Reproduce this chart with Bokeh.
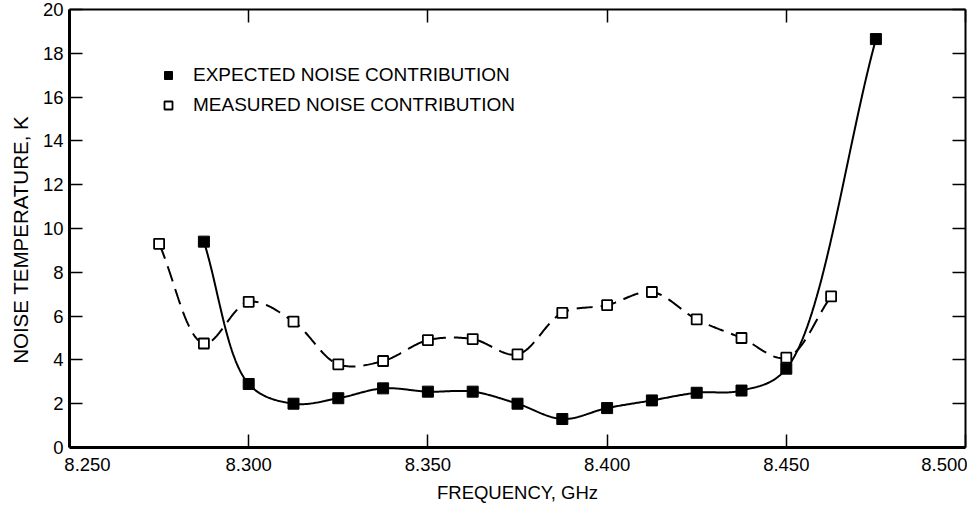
import numpy as np
from bokeh.plotting import figure
from bokeh.models import (LinearAxis, FixedTicker, Legend, LegendItem,
                          PrintfTickFormatter)
from bokeh.embed import file_html
from bokeh.resources import INLINE

# ---- data ----
freq_expected = [8.2875, 8.3000, 8.3125, 8.3250, 8.3375, 8.3500, 8.3625, 8.3750,
                 8.3875, 8.4000, 8.4125, 8.4250, 8.4375, 8.4500, 8.4750]
noise_expected = [9.4, 2.9, 2.0, 2.25, 2.7, 2.55, 2.55, 2.0,
                  1.3, 1.8, 2.15, 2.5, 2.6, 3.6, 18.65]
freq_measured = [8.2750, 8.2875, 8.3000, 8.3125, 8.3250, 8.3375, 8.3500, 8.3625,
                 8.3750, 8.3875, 8.4000, 8.4125, 8.4250, 8.4375, 8.4500, 8.4625]
noise_measured = [9.3, 4.75, 6.65, 5.75, 3.8, 3.95, 4.9, 4.95,
                  4.25, 6.15, 6.5, 7.1, 5.85, 5.0, 4.1, 6.9]
x_ticks = [8.25, 8.30, 8.35, 8.40, 8.45, 8.50]
y_ticks = [0, 2, 4, 6, 8, 10, 12, 14, 16, 18, 20]
legend_labels = ["EXPECTED NOISE CONTRIBUTION", "MEASURED NOISE CONTRIBUTION"]

FONT = "Liberation Sans"
FS = "18.5px"
NB = "\u00a0"


def smooth(xs, ys, n=40):
    """Centripetal Catmull-Rom curve through the given points (drawing aid)."""
    sx, sy = 3600.0, 22.0
    P = np.column_stack([np.asarray(xs) * sx, np.asarray(ys) * sy])
    P = np.vstack([2 * P[0] - P[1], P, 2 * P[-1] - P[-2]])
    out = []
    for i in range(1, len(P) - 2):
        p0, p1, p2, p3 = P[i - 1], P[i], P[i + 1], P[i + 2]
        t0 = 0.0
        t1 = t0 + np.linalg.norm(p1 - p0) ** 0.5
        t2 = t1 + np.linalg.norm(p2 - p1) ** 0.5
        t3 = t2 + np.linalg.norm(p3 - p2) ** 0.5
        t = np.linspace(t1, t2, n)[:, None]
        A1 = (t1 - t) / (t1 - t0) * p0 + (t - t0) / (t1 - t0) * p1
        A2 = (t2 - t) / (t2 - t1) * p1 + (t - t1) / (t2 - t1) * p2
        A3 = (t3 - t) / (t3 - t2) * p2 + (t - t2) / (t3 - t2) * p3
        B1 = (t2 - t) / (t2 - t0) * A1 + (t - t0) / (t2 - t0) * A2
        B2 = (t3 - t) / (t3 - t1) * A2 + (t - t1) / (t3 - t1) * A3
        C = (t2 - t) / (t2 - t1) * B1 + (t - t1) / (t2 - t1) * B2
        out.append(C if i == 1 else C[1:])
    C = np.vstack(out)
    return C[:, 0] / sx, C[:, 1] / sy


p = figure(width=967, height=505, x_range=(8.25, 8.50), y_range=(0, 20),
           output_backend="svg", toolbar_location=None,
           min_border_left=69, min_border_right=2, min_border_top=9,
           min_border_bottom=55)
p.outline_line_color = None
p.xgrid.visible = False
p.ygrid.visible = False
p.background_fill_color = "white"

# curves
ex, ey = smooth(freq_expected, noise_expected)
mx, my = smooth(freq_measured, noise_measured)
p.line(mx, my, line_color="black", line_width=2, line_dash="16 8")
p.line(ex, ey, line_color="black", line_width=2)

r_exp = p.scatter(freq_expected, noise_expected, marker="square", size=11,
                  fill_color="black", line_color="black", line_width=1)
r_mea = p.scatter(freq_measured, noise_measured, marker="square", size=10,
                  fill_color="white", line_color="black", line_width=1.8)

# axes
xt = FixedTicker(ticks=x_ticks)
yt = FixedTicker(ticks=y_ticks)
bottom = p.below[0]
left = p.left[0]
bottom.ticker = xt
bottom.formatter = PrintfTickFormatter(format="%.3f")
# first label kept inside the drawing, as in the reference
bottom.major_label_overrides = {8.25: NB * 7 + "8.250"}
left.ticker = yt

bottom.axis_label = "FREQUENCY, GHz"
left.axis_label = "NOISE TEMPERATURE, K" + NB * 4

top = LinearAxis(ticker=xt, major_label_overrides={t: "" for t in x_ticks},
                 major_label_standoff=0)
right = LinearAxis(ticker=yt, major_label_overrides={t: "" for t in y_ticks},
                   major_label_standoff=0)
p.add_layout(top, "above")
p.add_layout(right, "right")

for ax in [bottom, left, top, right]:
    ax.axis_line_color = "black"
    ax.axis_line_width = 2
    ax.major_tick_line_color = "black"
    ax.major_tick_line_width = 1.5
    ax.major_tick_in = 13
    ax.major_tick_out = 0
    ax.minor_tick_line_color = None
    ax.major_label_text_font = FONT
    ax.major_label_text_color = "black"
    ax.major_label_text_font_size = FS
    ax.axis_label_text_font = FONT
    ax.axis_label_text_font_style = "normal"
    ax.axis_label_text_color = "black"
    ax.axis_label_text_font_size = FS
for ax in [bottom, left]:
    ax.major_label_standoff = 6
    ax.axis_line_width = 3
left.axis_label_text_font_size = "20.5px"
bottom.axis_label_standoff = 4
left.axis_label_standoff = 8

legend = Legend(items=[LegendItem(label=legend_labels[0], renderers=[r_exp]),
                       LegendItem(label=legend_labels[1], renderers=[r_mea])],
                location=(89, 327), padding=0, margin=0, spacing=0,
                glyph_width=20, glyph_height=30, label_height=30,
                label_standoff=15, border_line_color=None,
                background_fill_alpha=0, label_text_font=FONT,
                label_text_font_size="19px", label_text_color="black")
p.add_layout(legend, "center")

open("out.html", "w").write(file_html(p, INLINE))
